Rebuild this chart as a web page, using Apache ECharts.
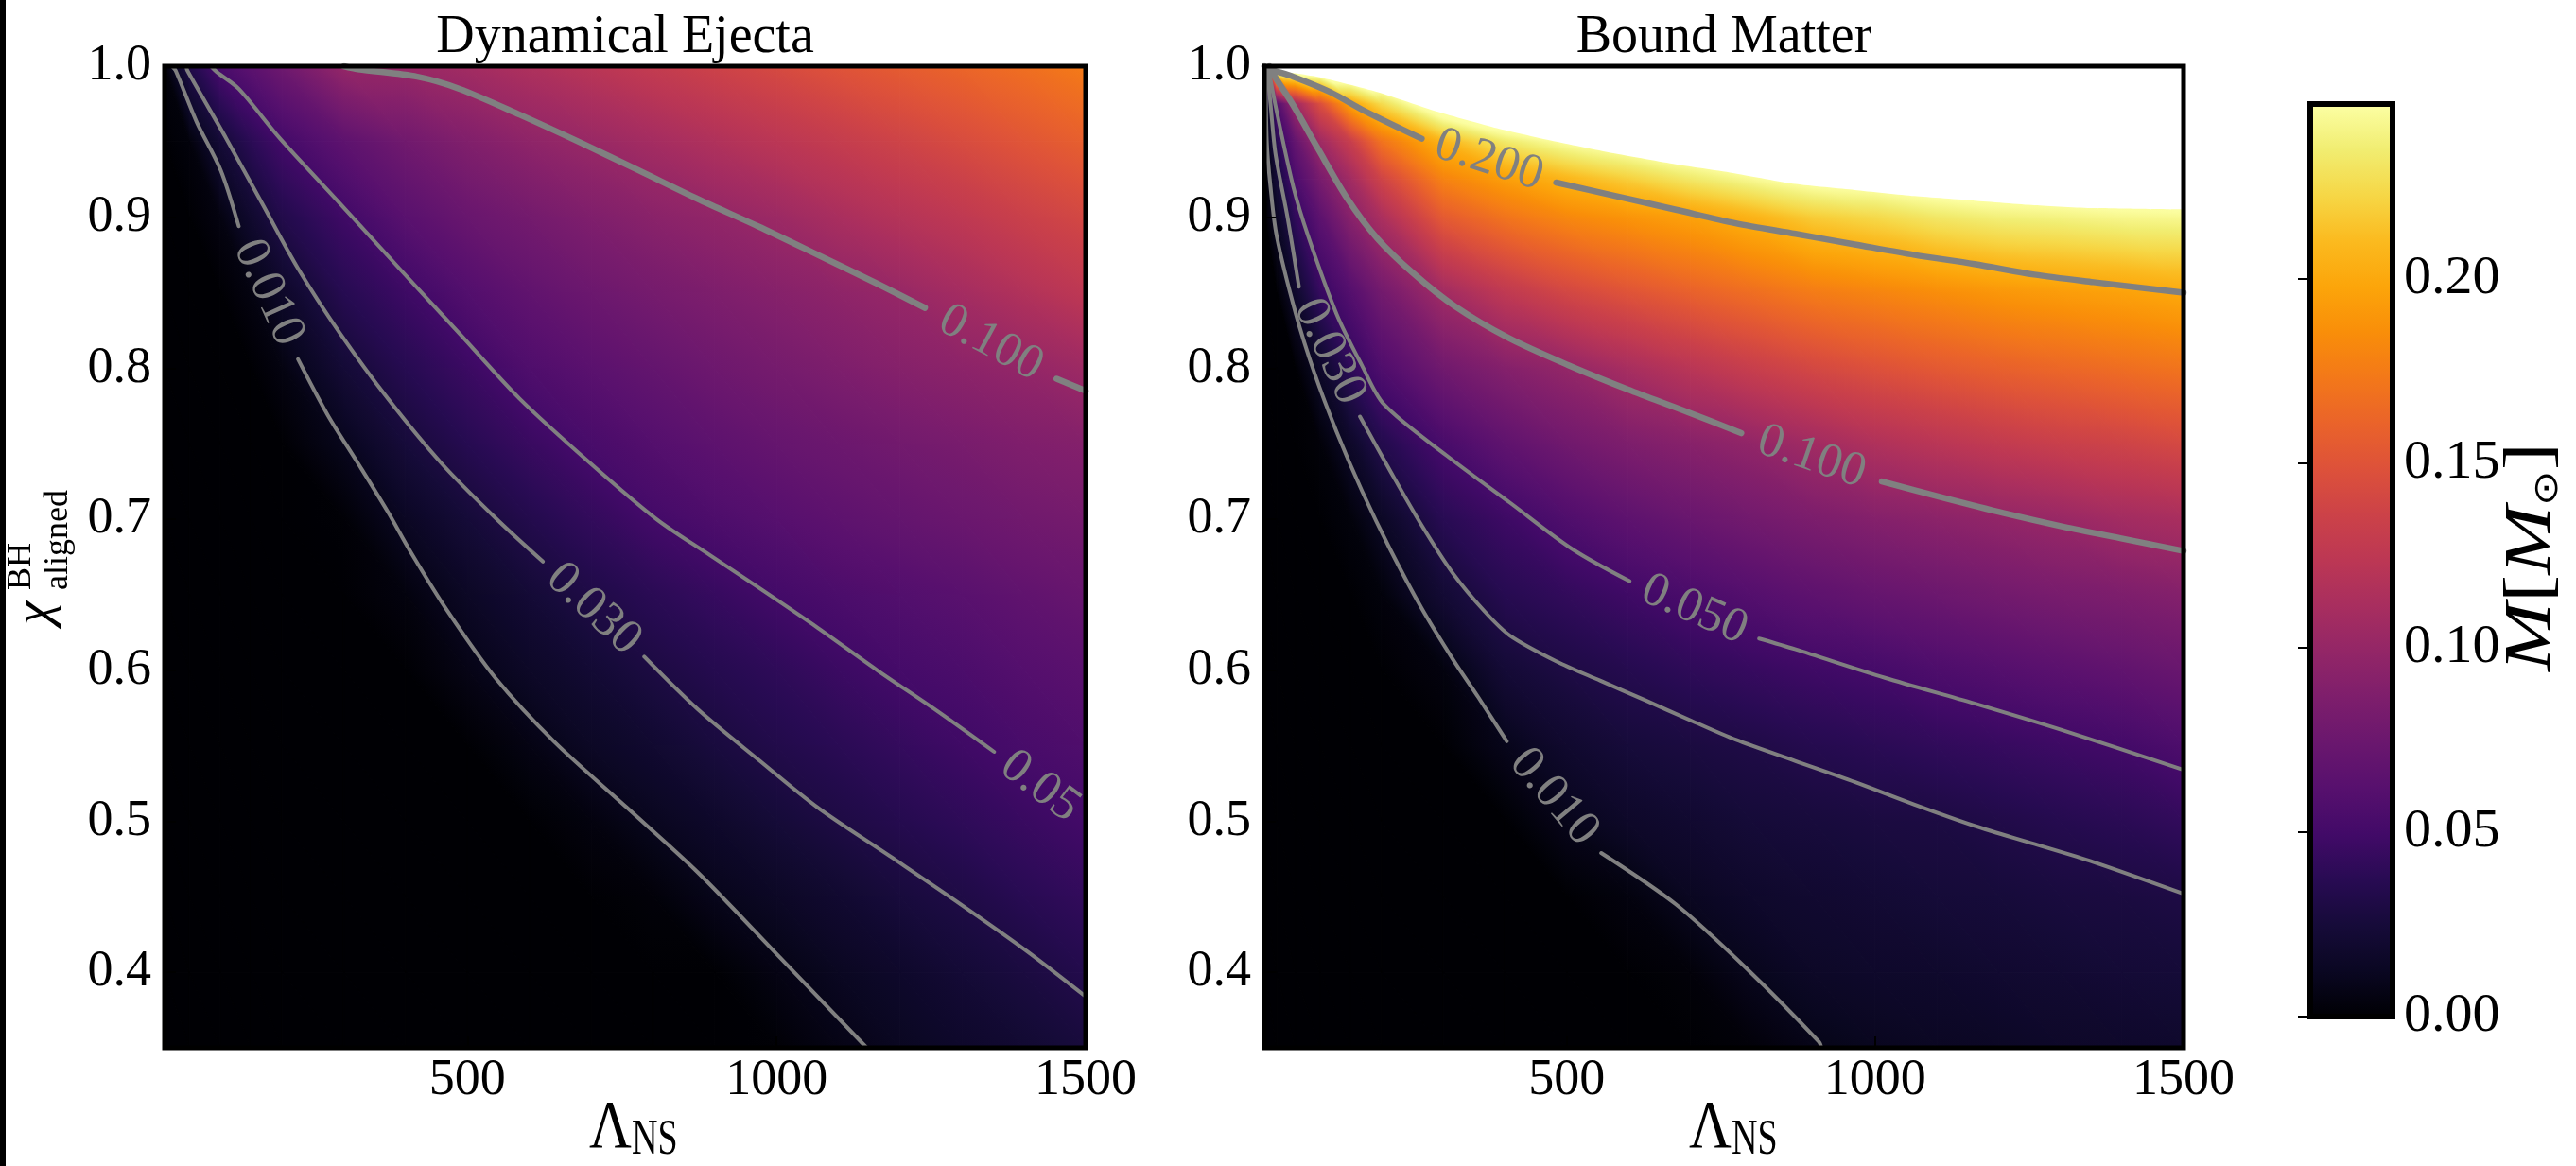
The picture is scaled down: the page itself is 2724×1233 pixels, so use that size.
<!DOCTYPE html>
<html>
<head>
<meta charset="utf-8">
<title>Dynamical Ejecta / Bound Matter</title>
<script src="https://cdn.jsdelivr.net/npm/echarts@6.0.0/dist/echarts.min.js"></script>
<style>
html,body{margin:0;padding:0;background:#ffffff;}
#chart{width:2724px;height:1233px;}
</style>
</head>
<body>
<div id="chart"></div>
<script>
// ---------------- axes / ticks ----------------
const lambdaRange = [10, 1500];
const chiRange = [0.35, 1.0];
const massRange = [0, 0.2475];
const xTicks = [500, 1000, 1500];
const yTicks = [0.4, 0.5, 0.6, 0.7, 0.8, 0.9, 1.0];
const massTicks = [0, 0.05, 0.10, 0.15, 0.20];

// inferno colour map stops (t = 0 .. 1)
const infernoStops = ['#000004','#0a0722','#160b39','#280b53','#420a68','#57106e','#6a176e','#7e1e6c','#932667','#a82e5f','#bc3754','#cc4248','#dd513a','#ea632a','#f37819','#f98e09','#fca50a','#fbba1f','#f6d746','#f1ed71','#fcffa4'];

// ---------------- Dynamical ejecta field ----------------
const ejectaLambda = [10, 50, 100, 150, 200, 300, 400, 500, 600, 700, 800, 900, 1000, 1100, 1200, 1300, 1400, 1500];
const ejectaChi = [1.00, 0.95, 0.90, 0.85, 0.80, 0.75, 0.70, 0.65, 0.60, 0.55, 0.50, 0.45, 0.40, 0.35];
const ejectaMass = [
  [0.003,0.032,0.054,0.065,0.077,0.100,0.102,0.108,0.115,0.122,0.129,0.136,0.143,0.150,0.156,0.162,0.168,0.175],
  [0.000,0.003,0.023,0.038,0.050,0.066,0.078,0.088,0.096,0.102,0.109,0.116,0.123,0.130,0.137,0.144,0.151,0.158],
  [0.000,0.000,0.005,0.019,0.033,0.048,0.063,0.073,0.080,0.087,0.093,0.098,0.104,0.112,0.119,0.126,0.134,0.141],
  [0.000,0.000,0.000,0.005,0.016,0.036,0.047,0.059,0.068,0.075,0.081,0.086,0.091,0.096,0.101,0.109,0.117,0.125],
  [0.000,0.000,0.000,0.000,0.005,0.023,0.036,0.046,0.057,0.064,0.070,0.076,0.081,0.086,0.091,0.095,0.099,0.105],
  [0.000,0.000,0.000,0.000,0.000,0.010,0.025,0.036,0.045,0.053,0.060,0.066,0.071,0.075,0.079,0.083,0.087,0.090],
  [0.000,0.000,0.000,0.000,0.000,0.001,0.013,0.024,0.034,0.042,0.050,0.056,0.061,0.066,0.070,0.074,0.078,0.081],
  [0.000,0.000,0.000,0.000,0.000,0.000,0.004,0.014,0.023,0.031,0.038,0.044,0.050,0.055,0.059,0.063,0.068,0.072],
  [0.000,0.000,0.000,0.000,0.000,0.000,0.000,0.007,0.015,0.022,0.029,0.035,0.040,0.046,0.051,0.055,0.060,0.064],
  [0.000,0.000,0.000,0.000,0.000,0.000,0.000,0.000,0.006,0.014,0.020,0.027,0.033,0.038,0.043,0.048,0.053,0.057],
  [0.000,0.000,0.000,0.000,0.000,0.000,0.000,0.000,0.000,0.004,0.011,0.017,0.024,0.030,0.035,0.040,0.045,0.050],
  [0.000,0.000,0.000,0.000,0.000,0.000,0.000,0.000,0.000,0.000,0.002,0.009,0.014,0.020,0.026,0.031,0.037,0.042],
  [0.000,0.000,0.000,0.000,0.000,0.000,0.000,0.000,0.000,0.000,0.000,0.000,0.006,0.012,0.017,0.023,0.028,0.034],
  [0.000,0.000,0.000,0.000,0.000,0.000,0.000,0.000,0.000,0.000,0.000,0.000,0.001,0.007,0.012,0.017,0.021,0.026]
];

// ---------------- Bound matter field ----------------
const boundLambda = [10, 30, 60, 100, 150, 200, 300, 400, 500, 600, 700, 800, 900, 1000, 1100, 1200, 1300, 1400, 1500];
const boundChi = [1.000, 0.975, 0.950, 0.925, 0.900, 0.850, 0.800, 0.750, 0.700, 0.650, 0.600, 0.550, 0.500, 0.450, 0.400, 0.350];
const boundMass = [
  [0.120,0.270,0.280,0.285,0.290,0.290,0.295,0.300,0.300,0.300,0.300,0.300,0.300,0.300,0.300,0.300,0.300,0.300,0.300],
  [0.003,0.058,0.105,0.146,0.198,0.225,0.270,0.290,0.300,0.300,0.300,0.300,0.300,0.300,0.300,0.300,0.300,0.300,0.300],
  [0.000,0.036,0.070,0.105,0.132,0.170,0.207,0.233,0.248,0.258,0.268,0.280,0.290,0.300,0.300,0.300,0.300,0.300,0.300],
  [0.000,0.023,0.055,0.082,0.107,0.137,0.179,0.194,0.207,0.219,0.232,0.243,0.253,0.256,0.262,0.264,0.265,0.266,0.265],
  [0.000,0.014,0.041,0.065,0.092,0.113,0.155,0.171,0.182,0.189,0.196,0.206,0.218,0.224,0.232,0.237,0.239,0.242,0.243],
  [0.000,0.000,0.018,0.043,0.060,0.079,0.107,0.126,0.140,0.150,0.159,0.167,0.175,0.180,0.185,0.190,0.193,0.196,0.200],
  [0.000,0.000,0.000,0.016,0.040,0.057,0.078,0.090,0.099,0.111,0.122,0.132,0.141,0.148,0.154,0.159,0.163,0.167,0.171],
  [0.000,0.000,0.000,0.002,0.016,0.034,0.053,0.067,0.078,0.086,0.092,0.098,0.107,0.116,0.122,0.128,0.133,0.137,0.142],
  [0.000,0.000,0.000,0.000,0.003,0.014,0.037,0.047,0.057,0.066,0.073,0.079,0.085,0.090,0.094,0.098,0.102,0.108,0.112],
  [0.000,0.000,0.000,0.000,0.000,0.003,0.022,0.036,0.042,0.048,0.054,0.060,0.066,0.071,0.075,0.079,0.083,0.086,0.090],
  [0.000,0.000,0.000,0.000,0.000,0.000,0.004,0.023,0.030,0.035,0.040,0.044,0.048,0.051,0.056,0.060,0.064,0.068,0.073],
  [0.000,0.000,0.000,0.000,0.000,0.000,0.000,0.009,0.019,0.025,0.028,0.031,0.035,0.038,0.041,0.044,0.047,0.050,0.056],
  [0.000,0.000,0.000,0.000,0.000,0.000,0.000,0.000,0.009,0.016,0.020,0.024,0.026,0.028,0.029,0.032,0.035,0.038,0.042],
  [0.000,0.000,0.000,0.000,0.000,0.000,0.000,0.000,0.000,0.004,0.012,0.017,0.020,0.022,0.024,0.025,0.027,0.028,0.030],
  [0.000,0.000,0.000,0.000,0.000,0.000,0.000,0.000,0.000,0.000,0.002,0.010,0.015,0.017,0.018,0.020,0.021,0.023,0.024],
  [0.000,0.000,0.000,0.000,0.000,0.000,0.000,0.000,0.000,0.000,0.000,0.002,0.008,0.011,0.013,0.014,0.016,0.017,0.018]
];
// upper edge of the coloured region (values above the colour-bar maximum are left white)
const boundUpperEdge = [[10,1.0],[19,0.998],[96,0.993],[193,0.983],[290,0.970],[387,0.959],[483,0.950],[580,0.942],[677,0.935],[774,0.929],[871,0.922],[967,0.918],[1064,0.914],[1161,0.911],[1258,0.908],[1354,0.906],[1500,0.905]];

// ---------------- contour lines, Dynamical ejecta (two pieces around the label) ----------------
const ej010A = [[22,1.0],[28,0.997],[62,0.963],[101,0.931],[130,0.894]];
const ej010B = [[226,0.806],[274,0.769],[323,0.737],[371,0.705],[410,0.677],[468,0.639],[545,0.595],[642,0.552],[758,0.509],[873,0.466],[1005,0.410],[1146,0.350]];
const ej030A = [[45,1.0],[47,0.997],[110,0.952],[168,0.909],[226,0.866],[294,0.823],[371,0.780],[458,0.737],[545,0.701],[622,0.672]];
const ej030B = [[786,0.609],[873,0.574],[970,0.541],[1067,0.509],[1183,0.477],[1298,0.445],[1405,0.414],[1500,0.384]];
const ej050A = [[85,1.0],[95,0.996],[130,0.985],[197,0.952],[294,0.909],[390,0.866],[487,0.823],[584,0.780],[699,0.737],[806,0.700],[893,0.676],[970,0.655],[1067,0.628],[1163,0.600],[1260,0.573],[1352,0.546]];
const ej050B = [[1500,0.500]];
const ej100A = [[300,1.0],[323,0.998],[419,0.993],[487,0.985],[584,0.968],[680,0.950],[777,0.931],[873,0.912],[970,0.894],[1067,0.875],[1163,0.856],[1240,0.840]];
const ej100B = [[1453,0.793],[1500,0.785]];

// ---------------- contour lines, Bound matter ----------------
const bd010A = [[12,1.0],[14,0.95],[20,0.92],[30,0.8875],[61,0.836],[91,0.797],[127,0.758],[168,0.719],[214,0.680],[265,0.641],[316,0.607],[357,0.582],[403,0.553]];
const bd010B = [[556,0.479],[677,0.445],[793,0.402],[909,0.354],[913,0.35]];
const bd030A = [[14,1.0],[20,0.975],[28,0.942],[48,0.899],[66,0.854]];
const bd030B = [[165,0.768],[214,0.732],[265,0.696],[316,0.664],[367,0.639],[408,0.623],[483,0.606],[555,0.593],[628,0.580],[700,0.567],[774,0.554],[870,0.540],[967,0.526],[1064,0.511],[1161,0.497],[1258,0.485],[1354,0.473],[1500,0.452]];
const bd050A = [[16,1.0],[30,0.97],[57,0.92],[81,0.8875],[127,0.836],[168,0.802],[204,0.776],[306,0.742],[408,0.711],[510,0.680],[602,0.659]];
const bd050B = [[812,0.621],[870,0.614],[1016,0.595],[1161,0.578],[1306,0.560],[1500,0.534]];
const bd100A = [[18,1.0],[24,0.995],[57,0.974],[96,0.946],[145,0.912],[193,0.886],[251,0.863],[319,0.841],[406,0.820],[503,0.802],[599,0.786],[696,0.771],[783,0.757]];
const bd100B = [[1011,0.725],[1112,0.714],[1209,0.704],[1306,0.695],[1403,0.687],[1500,0.679]];
const bd200A = [[10,1.0],[19,0.998],[57,0.993],[116,0.983],[174,0.970],[265,0.952]];
const bd200B = [[483,0.923],[580,0.914],[677,0.905],[774,0.896],[871,0.889],[967,0.882],[1064,0.875],[1161,0.869],[1258,0.862],[1354,0.857],[1500,0.850]];

// ---------------- style constants ----------------
const SERIF = '"Liberation Serif", "DejaVu Serif", serif';
const contourColor = '#808080';
const thinW = 4, thickW = 6.5;

const ejectaContours = [
  {text:'0.010', width:thinW, segs:[ej010A, ej010B]},
  {text:'0.030', width:thinW, segs:[ej030A, ej030B]},
  {text:'0.05',  width:thinW, segs:[ej050A, ej050B]},
  {text:'0.100', width:thickW, segs:[ej100A, ej100B]}
];
const boundContours = [
  {text:'0.010', width:thinW, segs:[bd010A, bd010B]},
  {text:'0.030', width:thinW, segs:[bd030A, bd030B]},
  {text:'0.050', width:thinW, segs:[bd050A, bd050B]},
  {text:'0.100', width:thickW, segs:[bd100A, bd100B]},
  {text:'0.200', width:thickW, segs:[bd200A, bd200B]}
];

// ---------------- colour mapping helpers ----------------
function hexRgb(h){return [parseInt(h.slice(1,3),16),parseInt(h.slice(3,5),16),parseInt(h.slice(5,7),16)];}
const cmapRGB = infernoStops.map(hexRgb);
function cmap(v){
  let t = (v - massRange[0]) / (massRange[1] - massRange[0]);
  t = Math.max(0, Math.min(1, t));
  const n = cmapRGB.length - 1, f = t * n, i = Math.min(n - 1, Math.floor(f)), u = f - i;
  const a = cmapRGB[i], b = cmapRGB[i + 1];
  return 'rgb(' + Math.round(a[0] + (b[0] - a[0]) * u) + ',' + Math.round(a[1] + (b[1] - a[1]) * u) + ',' + Math.round(a[2] + (b[2] - a[2]) * u) + ')';
}
function triangleFill(p, v){
  const e1x = p[1][0] - p[0][0], e1y = p[1][1] - p[0][1];
  const e2x = p[2][0] - p[0][0], e2y = p[2][1] - p[0][1];
  const d1 = v[1] - v[0], d2 = v[2] - v[0];
  const det = e1x * e2y - e1y * e2x;
  const lo = Math.min(v[0], v[1], v[2]), hi = Math.max(v[0], v[1], v[2]);
  const mean = (v[0] + v[1] + v[2]) / 3;
  if (Math.abs(det) < 1e-9 || hi - lo < 1e-7) return cmap(mean);
  const gx = (d1 * e2y - d2 * e1y) / det, gy = (d2 * e1x - d1 * e2x) / det;
  const g2 = gx * gx + gy * gy;
  if (g2 < 1e-16) return cmap(mean);
  const sx = p[0][0] + gx * (lo - v[0]) / g2, sy = p[0][1] + gy * (lo - v[0]) / g2;
  const ex = p[0][0] + gx * (hi - v[0]) / g2, ey = p[0][1] + gy * (hi - v[0]) / g2;
  const n = Math.max(2, Math.ceil((hi - lo) / (massRange[1] - massRange[0]) * 60));
  const stops = [];
  for (let k = 0; k <= n; k++) stops.push({offset: k / n, color: cmap(lo + (hi - lo) * k / n)});
  return new echarts.graphic.LinearGradient(sx, sy, ex, ey, stops, true);
}
function fieldRenderer(lams, chis, grid){
  return function(params, api){
    const i = api.value(0), j = api.value(1);
    const c = (ii, jj) => api.coord([lams[ii], chis[jj]]);
    const P = [c(i, j), c(i + 1, j), c(i + 1, j + 1), c(i, j + 1)];
    const V = [grid[j][i], grid[j][i + 1], grid[j + 1][i + 1], grid[j + 1][i]];
    const tris = Math.abs(V[0] - V[2]) <= Math.abs(V[1] - V[3]) ? [[0,1,2],[0,2,3]] : [[0,1,3],[1,2,3]];
    return {type:'group', children: tris.map(t => {
      const pts = t.map(k => P[k]), vals = t.map(k => V[k]);
      const fill = triangleFill(pts, vals);
      return {type:'polygon', shape:{points:pts}, style:{fill:fill, stroke:fill, lineWidth:1.2, lineJoin:'round'}};
    })};
  };
}
function cells(lams, chis){
  const out = [];
  for (let j = 0; j < chis.length - 1; j++) for (let i = 0; i < lams.length - 1; i++) out.push([i, j]);
  return out;
}
function contourSeries(contours, idx){
  const out = [];
  contours.forEach(c => c.segs.forEach(seg => {
    if (seg.length < 2) return;
    out.push({type:'line', xAxisIndex:idx, yAxisIndex:idx, data:seg, symbol:'none', showSymbol:false,
      smooth:0.3, clip:true, silent:true, z:3, lineStyle:{color:contourColor, width:c.width, cap:'round', join:'round'}});
  }));
  return out;
}
function labelSeries(contours, idx){
  const labs = contours.map(c => ({text:c.text, a:c.segs[0][c.segs[0].length - 1], b:c.segs[1][0]}));
  return {type:'custom', xAxisIndex:idx, yAxisIndex:idx, silent:true, z:4,
    data: labs.map((l, k) => [k]),
    renderItem: function(params, api){
      const l = labs[params.dataIndex];
      const p1 = api.coord(l.a), p2 = api.coord(l.b);
      let ang = Math.atan2(-(p2[1] - p1[1]), p2[0] - p1[0]);
      if (ang > Math.PI / 2) ang -= Math.PI;
      if (ang < -Math.PI / 2) ang += Math.PI;
      return {type:'text', x:(p1[0] + p2[0]) / 2, y:(p1[1] + p2[1]) / 2, rotation:ang,
        style:{text:l.text, fill:contourColor, font:'52px ' + SERIF, align:'center', verticalAlign:'middle', textAlign:'center', textVerticalAlign:'middle'}};
    }};
}
function frameSeries(idx, xr, yr, w){
  return {type:'custom', xAxisIndex:idx, yAxisIndex:idx, silent:true, z:8, data:[[0]],
    renderItem: function(params, api){
      const a = api.coord([xr[0], yr[1]]), b = api.coord([xr[1], yr[0]]);
      return {type:'rect', shape:{x:a[0], y:a[1], width:b[0] - a[0], height:b[1] - a[1]},
        style:{fill:'none', stroke:'#000', lineWidth:w}};
    }};
}
function panelXAxis(idx){
  return {gridIndex:idx, type:'value', min:lambdaRange[0], max:lambdaRange[1], z:6,
    axisLine:{show:false}, splitLine:{show:false},
    axisTick:{show:true, inside:true, length:12, lineStyle:{color:'#000', width:2}, customValues:xTicks},
    axisLabel:{show:true, customValues:xTicks, color:'#000', fontFamily:SERIF, fontSize:54, margin:8,
      formatter: v => String(Math.round(v))}};
}
function panelYAxis(idx){
  return {gridIndex:idx, type:'value', min:chiRange[0], max:chiRange[1], z:6,
    axisLine:{show:false}, splitLine:{show:false},
    axisTick:{show:true, inside:true, length:12, lineStyle:{color:'#000', width:2}, customValues:yTicks},
    axisLabel:{show:true, customValues:yTicks, color:'#000', fontFamily:SERIF, fontSize:54, margin:14,
      formatter: v => v.toFixed(1)}};
}
const textStyleBase = (txt, size, extra) => Object.assign({text:txt, font:size + 'px ' + SERIF, fill:'#000',
  align:'center', verticalAlign:'middle', textAlign:'center', textVerticalAlign:'middle'}, extra || {});
const ROT = Math.PI / 2;

const chart = echarts.init(document.getElementById('chart'), null, {renderer:'canvas'});
const option = {
  animation:false,
  backgroundColor:'#ffffff',
  textStyle:{fontFamily:SERIF},
  grid:[
    {left:174, top:70, width:974, height:1038, outerBoundsMode:'none', containLabel:false},
    {left:1337, top:70, width:972, height:1038, outerBoundsMode:'none', containLabel:false},
    {left:2443, top:110, width:87, height:965, outerBoundsMode:'none', containLabel:false}
  ],
  xAxis:[panelXAxis(0), panelXAxis(1), {gridIndex:2, type:'value', min:0, max:1, show:false}],
  yAxis:[panelYAxis(0), panelYAxis(1), {gridIndex:2, type:'value', position:'right', min:massRange[0], max:massRange[1], z:6,
    axisLine:{show:false}, splitLine:{show:false},
    axisTick:{show:true, inside:true, length:13, lineStyle:{color:'#000', width:2}, customValues:massTicks},
    axisLabel:{show:true, customValues:massTicks, color:'#000', fontFamily:SERIF, fontSize:58, margin:12, formatter: v => v.toFixed(2)}}],
  series:[
    {type:'custom', xAxisIndex:0, yAxisIndex:0, silent:true, z:1, clip:true, data:cells(ejectaLambda, ejectaChi), renderItem:fieldRenderer(ejectaLambda, ejectaChi, ejectaMass)},
    {type:'custom', xAxisIndex:1, yAxisIndex:1, silent:true, z:1, clip:true, data:cells(boundLambda, boundChi), renderItem:fieldRenderer(boundLambda, boundChi, boundMass)},
    {type:'line', xAxisIndex:1, yAxisIndex:1, data:boundUpperEdge, symbol:'none', showSymbol:false, smooth:0.2, silent:true, z:2,
      lineStyle:{width:0, opacity:0}, areaStyle:{color:'#ffffff', opacity:1, origin:'end'}},
    ...contourSeries(ejectaContours, 0),
    ...contourSeries(boundContours, 1),
    labelSeries(ejectaContours, 0),
    labelSeries(boundContours, 1),
    frameSeries(0, lambdaRange, chiRange, 5),
    frameSeries(1, lambdaRange, chiRange, 5),
    {type:'custom', xAxisIndex:2, yAxisIndex:2, silent:true, z:1, data:[[0]],
      renderItem: function(params, api){
        const a = api.coord([0, massRange[1]]), b = api.coord([1, massRange[0]]);
        const stops = infernoStops.map((c, k) => ({offset:k / (infernoStops.length - 1), color:c}));
        return {type:'rect', shape:{x:a[0], y:a[1], width:b[0] - a[0], height:b[1] - a[1]},
          style:{fill:new echarts.graphic.LinearGradient(0, b[1], 0, a[1], stops, true)}};
      }},
    frameSeries(2, [0, 1], massRange, 6)
  ],
  graphic:[
    {type:'rect', shape:{x:0, y:0, width:6, height:1233}, style:{fill:'#000'}, z:100},
    {type:'text', x:661, y:40, style:textStyleBase('Dynamical Ejecta', 56)},
    {type:'text', x:1823, y:40, style:textStyleBase('Bound Matter', 56)},
    {type:'text', x:668, y:1194, scaleY:1.15, style:textStyleBase('Λ', 62, {align:'right', textAlign:'right'})},
    {type:'text', x:668, y:1206, scaleY:1.4, style:textStyleBase('NS', 38, {align:'left', textAlign:'left'})},
    {type:'text', x:1831, y:1194, scaleY:1.15, style:textStyleBase('Λ', 62, {align:'right', textAlign:'right'})},
    {type:'text', x:1831, y:1206, scaleY:1.4, style:textStyleBase('NS', 38, {align:'left', textAlign:'left'})},
    // y-axis name: chi with superscript BH and subscript "aligned", rotated to read upward
    {type:'text', x:38, y:661, rotation:ROT, style:textStyleBase('χ', 58, {font:'italic 58px ' + SERIF, align:'left', textAlign:'left'})},
    {type:'text', x:23, y:624, rotation:ROT, style:textStyleBase('BH', 36, {align:'left', textAlign:'left'})},
    {type:'text', x:62, y:624, rotation:ROT, style:textStyleBase('aligned', 36, {align:'left', textAlign:'left'})},
    // colour-bar name
    {type:'text', x:2678, y:589, rotation:ROT, scaleX:1.25, style:{
      text:'{i|M}{r|[}{i|M}{s|⊙}{r|]}', align:'center', verticalAlign:'middle', textAlign:'center', textVerticalAlign:'middle',
      rich:{
        i:{fontFamily:SERIF, fontStyle:'italic', fontSize:70, fill:'#000', color:'#000'},
        r:{fontFamily:SERIF, fontSize:70, fill:'#000', color:'#000'},
        s:{fontFamily:'"DejaVu Sans", sans-serif', fontSize:36, fill:'#000', color:'#000', verticalAlign:'bottom', padding:[24, 0, 0, 0]}
      }}}
  ]
};
chart.setOption(option);
</script>
</body>
</html>
